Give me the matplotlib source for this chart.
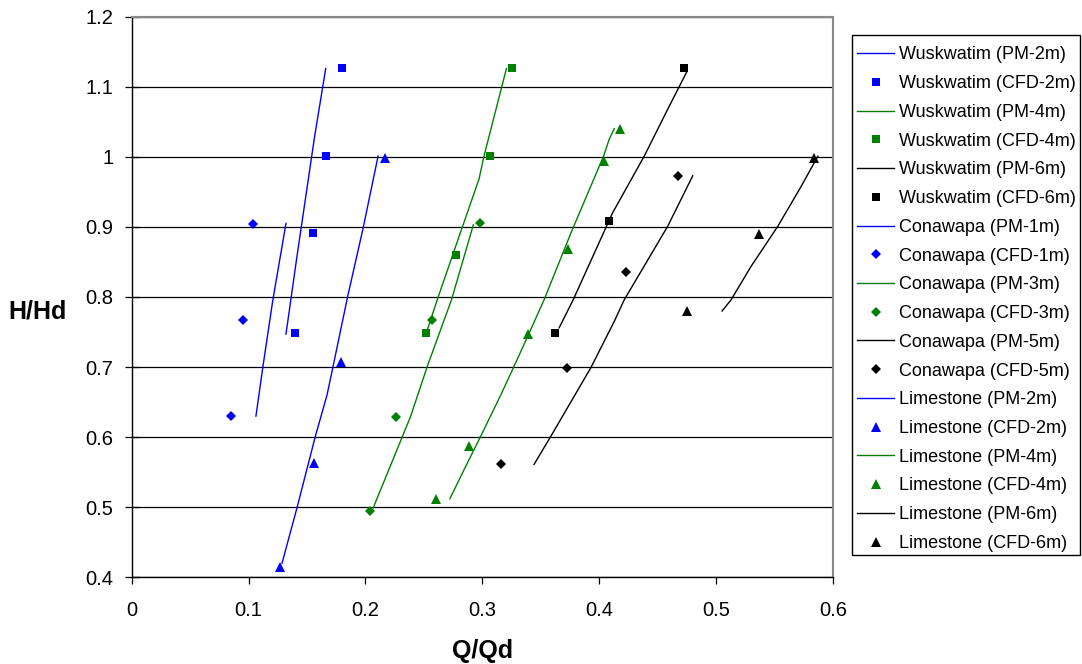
import matplotlib
matplotlib.use("Agg")
import matplotlib.pyplot as plt
from matplotlib.patches import Rectangle

plt.rcParams['font.family'] = ['Liberation Sans', 'DejaVu Sans']

# ---- data (Q/Qd, H/Hd) ----
wus_pm2_q = [0.132, 0.1365, 0.1414, 0.1565, 0.166]
wus_pm2_h = [0.747, 0.800, 0.858, 1.029, 1.126]
wus_cfd2_q = [0.140, 0.155, 0.166, 0.180]
wus_cfd2_h = [0.749, 0.891, 1.001, 1.127]
wus_pm4_q = [0.2529, 0.2614, 0.2771, 0.2971, 0.3014, 0.3206]
wus_pm4_h = [0.753, 0.796, 0.872, 0.968, 1.001, 1.126]
wus_cfd4_q = [0.2517, 0.2777, 0.3065, 0.3257]
wus_cfd4_h = [0.749, 0.860, 1.001, 1.127]
wus_pm6_q = [0.3657, 0.3777, 0.4114, 0.4385, 0.4586, 0.4751]
wus_pm6_h = [0.756, 0.796, 0.920, 1.001, 1.068, 1.122]
wus_cfd6_q = [0.3622, 0.408, 0.4728]
wus_cfd6_h = [0.749, 0.908, 1.127]

con_pm1_q = [0.1063, 0.1123, 0.1208, 0.132]
con_pm1_h = [0.630, 0.701, 0.796, 0.905]
con_cfd1_q = [0.0849, 0.0951, 0.1037]
con_cfd1_h = [0.630, 0.767, 0.904]
con_pm3_q = [0.2066, 0.2385, 0.2529, 0.2736, 0.2923]
con_pm3_h = [0.499, 0.629, 0.701, 0.796, 0.903]
con_cfd3_q = [0.2037, 0.2263, 0.2571, 0.298]
con_cfd3_h = [0.494, 0.629, 0.767, 0.905]
con_pm5_q = [0.3442, 0.3585, 0.3928, 0.4128, 0.4214, 0.4586, 0.480]
con_pm5_h = [0.561, 0.601, 0.699, 0.765, 0.796, 0.901, 0.973]
con_cfd5_q = [0.3157, 0.3723, 0.4231, 0.4677]
con_cfd5_h = [0.561, 0.699, 0.836, 0.973]

lim_pm2_q = [0.1286, 0.1414, 0.1571, 0.1671, 0.1723, 0.1848, 0.1977, 0.2108]
lim_pm2_h = [0.420, 0.499, 0.601, 0.660, 0.701, 0.801, 0.896, 1.001]
lim_cfd2_q = [0.1271, 0.1557, 0.179, 0.2171]
lim_cfd2_h = [0.415, 0.563, 0.707, 0.999]
lim_pm4_q = [0.2722, 0.2842, 0.2985, 0.3157, 0.3271, 0.3394, 0.3528, 0.3757, 0.4037, 0.4085, 0.4128]
lim_pm4_h = [0.512, 0.553, 0.601, 0.660, 0.701, 0.746, 0.796, 0.891, 1.001, 1.025, 1.040]
lim_cfd4_q = [0.2606, 0.2885, 0.3394, 0.3734, 0.4042, 0.418]
lim_cfd4_h = [0.511, 0.588, 0.747, 0.868, 0.994, 1.039]
lim_pm6_q = [0.5051, 0.5128, 0.530, 0.5528, 0.5728, 0.5871]
lim_pm6_h = [0.780, 0.796, 0.844, 0.901, 0.958, 1.001]
lim_cfd6_q = [0.4748, 0.537, 0.5834]
lim_cfd6_h = [0.780, 0.890, 0.999]

x_ticks = [0, 0.1, 0.2, 0.3, 0.4, 0.5, 0.6]
x_tick_labels = ['0', '0.1', '0.2', '0.3', '0.4', '0.5', '0.6']
y_ticks = [0.4, 0.5, 0.6, 0.7, 0.8, 0.9, 1.0, 1.1, 1.2]
y_tick_labels = ['0.4', '0.5', '0.6', '0.7', '0.8', '0.9', '1', '1.1', '1.2']

BLUE = '#0000FF'
GREEN = '#008000'
BLACK = '#000000'

series = [
    ('Wuskwatim (PM-2m)', wus_pm2_q, wus_pm2_h, BLUE, None),
    ('Wuskwatim (CFD-2m)', wus_cfd2_q, wus_cfd2_h, BLUE, 's'),
    ('Wuskwatim (PM-4m)', wus_pm4_q, wus_pm4_h, GREEN, None),
    ('Wuskwatim (CFD-4m)', wus_cfd4_q, wus_cfd4_h, GREEN, 's'),
    ('Wuskwatim (PM-6m)', wus_pm6_q, wus_pm6_h, BLACK, None),
    ('Wuskwatim (CFD-6m)', wus_cfd6_q, wus_cfd6_h, BLACK, 's'),
    ('Conawapa (PM-1m)', con_pm1_q, con_pm1_h, BLUE, None),
    ('Conawapa (CFD-1m)', con_cfd1_q, con_cfd1_h, BLUE, 'D'),
    ('Conawapa (PM-3m)', con_pm3_q, con_pm3_h, GREEN, None),
    ('Conawapa (CFD-3m)', con_cfd3_q, con_cfd3_h, GREEN, 'D'),
    ('Conawapa (PM-5m)', con_pm5_q, con_pm5_h, BLACK, None),
    ('Conawapa (CFD-5m)', con_cfd5_q, con_cfd5_h, BLACK, 'D'),
    ('Limestone (PM-2m)', lim_pm2_q, lim_pm2_h, BLUE, None),
    ('Limestone (CFD-2m)', lim_cfd2_q, lim_cfd2_h, BLUE, '^'),
    ('Limestone (PM-4m)', lim_pm4_q, lim_pm4_h, GREEN, None),
    ('Limestone (CFD-4m)', lim_cfd4_q, lim_cfd4_h, GREEN, '^'),
    ('Limestone (PM-6m)', lim_pm6_q, lim_pm6_h, BLACK, None),
    ('Limestone (CFD-6m)', lim_cfd6_q, lim_cfd6_h, BLACK, '^'),
]

marker_sizes = {'s': 5.6, 'D': 5.2, '^': 6.8}

W, H = 1082, 664
fig = plt.figure(figsize=(W / 100, H / 100), dpi=100)
ax = fig.add_axes([0.1217, 0.1306, 0.6482, 0.8443])

handles = []
for label, q, h, color, marker in series:
    if marker is None:
        ln, = ax.plot(q, h, color=color, lw=1.0, label=label, zorder=3)
    else:
        ln, = ax.plot(q, h, linestyle='none', marker=marker, color=color,
                      markersize=marker_sizes[marker], markeredgewidth=0,
                      label=label, zorder=4)
    handles.append(ln)

ax.set_xlim(0, 0.6)
ax.set_ylim(0.4, 1.2)
ax.set_xticks(x_ticks)
ax.set_xticklabels(x_tick_labels)
ax.set_yticks(y_ticks)
ax.set_yticklabels(y_tick_labels)

ax.yaxis.grid(True, color='#000000', lw=0.9, zorder=1)
ax.set_axisbelow(True)
ax.tick_params(axis='x', direction='out', length=5, width=0.9, pad=12, labelsize=14.5, colors='#000000')
ax.tick_params(axis='y', direction='inout', length=10, width=0.9, pad=8, labelsize=14.5, colors='#000000')

for s in ['left', 'bottom']:
    ax.spines[s].set_color('#000000')
    ax.spines[s].set_linewidth(1.0)
for s in ['top', 'right']:
    ax.spines[s].set_color('#888888')
    ax.spines[s].set_linewidth(1.5)

ax.set_xlabel('Q/Qd', fontsize=18, fontweight='bold')
ax.xaxis.set_label_coords(0.501, -0.110)
ax.set_ylabel('H/Hd', fontsize=18, fontweight='bold', rotation=0, va='center', ha='center')
ax.yaxis.set_label_coords(-0.1336, 0.474)

# legend frame drawn as a rectangle in figure pixels
fig.patches.append(Rectangle((852 / W, 1 - 555 / H), (1080 - 852) / W, (555 - 35) / H,
                             transform=fig.transFigure, fill=False,
                             edgecolor='#000000', lw=1.0))

leg = fig.legend(handles=handles, loc='upper left',
                 bbox_to_anchor=(852 / W, 1 - 41 / H),
                 fontsize=13, frameon=False,
                 handlelength=2.05, handletextpad=0.28,
                 labelspacing=0.65, borderpad=0.3, borderaxespad=0.0,
                 numpoints=1)

fig.savefig('out.png', dpi=100, facecolor='white')
